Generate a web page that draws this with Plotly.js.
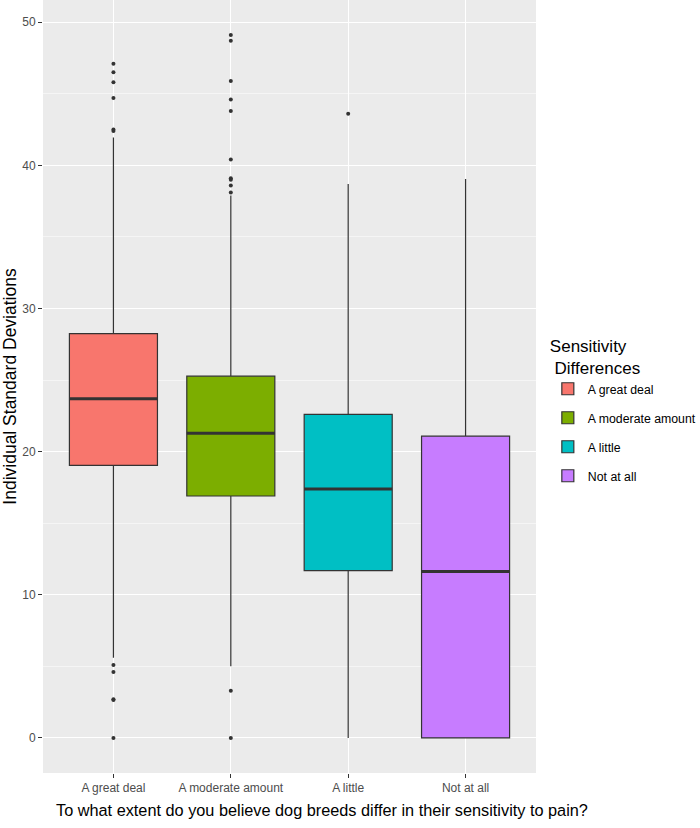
<!DOCTYPE html>
<html>
<head>
<meta charset="utf-8">
<script src="https://cdn.plot.ly/plotly-3.0.1.min.js"></script>
<style>html,body{margin:0;padding:0;background:#fff}</style>
</head>
<body>
<div id="chart" style="width:700px;height:828px"></div>
<script>
var categories = ["A great deal", "A moderate amount", "A little", "Not at all"];
var colors = ["#F8766D", "#7CAE00", "#00BFC4", "#C77CFF"];
var q1 = [19.04, 16.9, 11.69, 0];
var medians = [23.69, 21.29, 17.39, 11.62];
var q3 = [28.24, 25.27, 22.6, 21.08];
var lowerFence = [5.6, 5.0, 0, 0];
var upperFence = [41.95, 37.9, 38.7, 39.05];
var outliers = [
  [47.1, 46.5, 45.8, 44.7, 42.5, 42.4, 5.1, 4.6, 2.7, 2.65, 0],
  [49.1, 48.7, 45.9, 44.6, 43.8, 40.4, 39.1, 39.0, 38.6, 38.1, 3.3, 0],
  [43.6],
  []
];
var xTitle = "To what extent do you believe dog breeds differ in their sensitivity to pain?";

var font = "'Liberation Sans', Arial, sans-serif";
var traces = [];
var shapes = [];
categories.forEach(function (c, i) {
  traces.push({
    type: "box",
    name: c,
    x: [c],
    q1: [q1[i]],
    median: [medians[i]],
    q3: [q3[i]],
    lowerfence: [lowerFence[i]],
    upperfence: [upperFence[i]],
    width: 0.75,
    whiskerwidth: 0,
    fillcolor: colors[i],
    line: {color: "#333333", width: 1.2},
    legendgroup: "g" + i,
    hoverinfo: "skip"
  });
  shapes.push({
    type: "line", xref: "x", yref: "y",
    x0: i - 0.375, x1: i + 0.375, y0: medians[i], y1: medians[i],
    line: {color: "#333333", width: 3}
  });
});
categories.forEach(function (c, i) {
  if (!outliers[i].length) return;
  traces.push({
    type: "scatter",
    mode: "markers",
    x: outliers[i].map(function () { return c; }),
    y: outliers[i],
    marker: {color: "#333333", size: 4},
    showlegend: false,
    hoverinfo: "skip"
  });
});

var layout = {
  width: 700, height: 828,
  margin: {l: 43, r: 164, t: 0, b: 55, autoexpand: false},
  paper_bgcolor: "#ffffff",
  plot_bgcolor: "#EBEBEB",
  font: {family: font, color: "#000000"},
  boxmode: "overlay",
  showlegend: true,
  xaxis: {
    type: "category",
    categoryorder: "array",
    categoryarray: categories,
    range: [-0.6, 3.6],
    showgrid: true, gridcolor: "#FFFFFF", gridwidth: 1.1,
    zeroline: false, showline: false,
    ticks: "outside", ticklen: 4, tickcolor: "#333333", tickwidth: 1,
    tickfont: {size: 12, color: "#4D4D4D", family: font}
  },
  yaxis: {
    range: [-2.45, 51.55],
    tickvals: [0, 10, 20, 30, 40, 50],
    showgrid: true, gridcolor: "#FFFFFF", gridwidth: 1.1,
    minor: {tickvals: [5, 15, 25, 35, 45], showgrid: true, gridcolor: "#FFFFFF", gridwidth: 0.5, ticks: ""},
    zeroline: false, showline: false,
    ticks: "outside", ticklen: 4, tickcolor: "#333333", tickwidth: 1,
    tickfont: {size: 12, color: "#4D4D4D", family: font},
    title: {text: "Individual Standard Deviations", font: {size: 17.5, color: "#000000", family: font}, standoff: 3}
  },
  annotations: [{
    text: xTitle, xref: "paper", yref: "paper",
    x: 0.566, y: -0.048, xanchor: "center", yanchor: "middle",
    showarrow: false, font: {size: 16.3, color: "#000000", family: font}
  }],
  legend: {
    x: 1.024, xanchor: "left",
    y: 0.573, yanchor: "top",
    bgcolor: "rgba(0,0,0,0)",
    font: {size: 12.3, color: "#000000", family: font},
    tracegroupgap: 10,
    title: {text: "Sensitivity<br> Differences", font: {size: 17, color: "#000000", family: font}}
  },
  shapes: shapes
};

Plotly.newPlot("chart", traces, layout, {displayModeBar: false, staticPlot: true});
</script>
</body>
</html>
